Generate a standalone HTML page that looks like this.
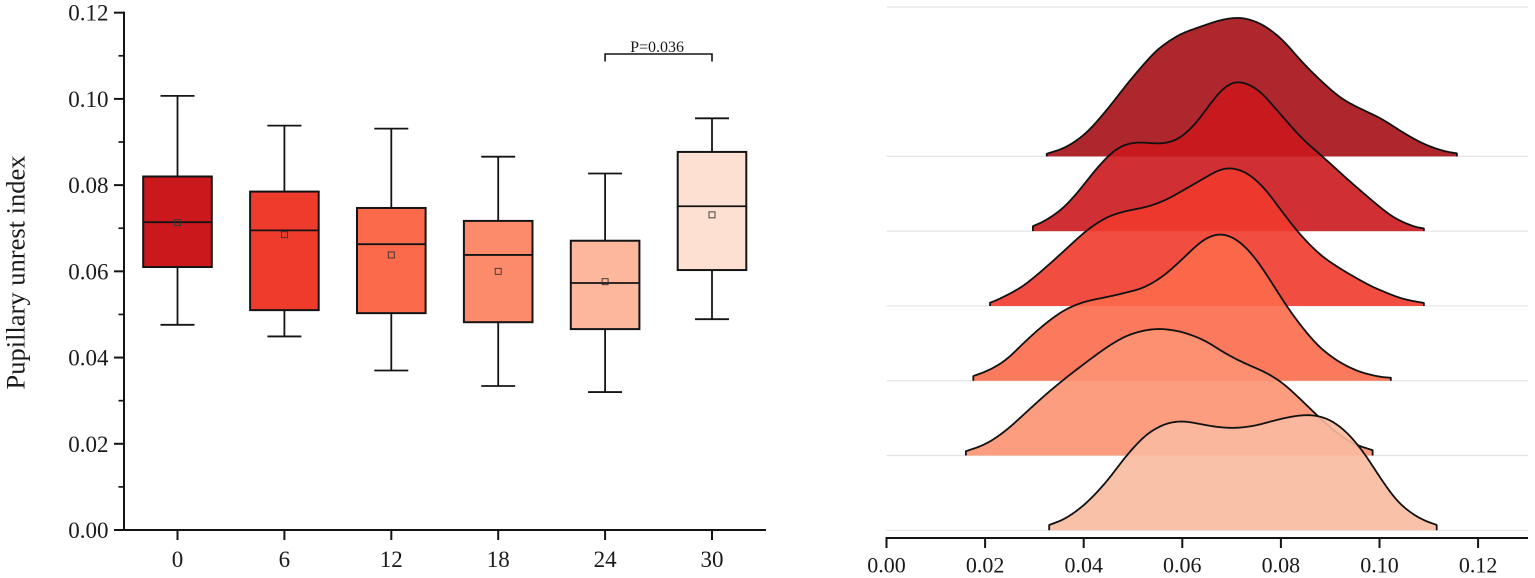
<!DOCTYPE html>
<html lang="en">
<head>
<meta charset="utf-8">
<title>Pupillary unrest index box and ridgeline plots</title>
<style>
html,body{margin:0;padding:0;background:#fff;width:1535px;height:578px;overflow:hidden}
svg{display:block}
text{font-family:"Liberation Serif",serif;fill:#1a1a1a}
</style>
</head>
<body>
<svg id="chart" xmlns="http://www.w3.org/2000/svg" width="1535" height="578" viewBox="0 0 1535 578"></svg>
<script>
// ---------- Box plot data ----------
const boxCategories = ['0', '6', '12', '18', '24', '30'];
const boxWhiskerHigh = [0.1007, 0.0938, 0.0931, 0.0866, 0.0827, 0.0955];
const boxQ3 = [0.0820, 0.0785, 0.0747, 0.0717, 0.0671, 0.0877];
const boxMedian = [0.0714, 0.0695, 0.0663, 0.0638, 0.0573, 0.0751];
const boxMean = [0.0713, 0.0685, 0.0638, 0.0600, 0.0576, 0.0731];
const boxQ1 = [0.0610, 0.0510, 0.0503, 0.0482, 0.0466, 0.0603];
const boxWhiskerLow = [0.0476, 0.0449, 0.0370, 0.0334, 0.0320, 0.0489];
const boxColors = ['#cb181d', '#ef3b2c', '#fb6a4a', '#fc8b6c', '#fcb79c', '#fee0d2'];
const boxYTicks = ['0.00', '0.02', '0.04', '0.06', '0.08', '0.10', '0.12'];
const boxYMinorTicks = [0.01, 0.03, 0.05, 0.07, 0.09, 0.11];

// ---------- Ridgeline data ----------
const ridgeXTicks = ['0.00', '0.02', '0.04', '0.06', '0.08', '0.10', '0.12'];
const ridgeColors = ['#a50f15', '#cb181d', '#ef3b2c', '#fb6a4a', '#fc9272', '#fabaa0'];
const ridge0X = [.0325,.0366,.0406,.0447,.0494,.0548,.0595,.0646,.0680,.0720,.0761,.0802,.0842,.0883,.0923,.0964,.1004,.1045,.1086,.1126,.1157];
const ridge0D = [.026,.09,.23,.463,.763,1.07,1.225,1.313,1.37,1.395,1.33,1.18,.946,.746,.573,.47,.38,.246,.13,.056,.03];
const ridge1X = [.0297,.0325,.0359,.0392,.0420,.0447,.0474,.0507,.0561,.0595,.0629,.0656,.0673,.0694,.0714,.0754,.0795,.0842,.0889,.0937,.0984,.1025,.1065,.1090];
const ridge1D = [.05,.11,.227,.41,.593,.743,.857,.893,.87,.92,1.08,1.27,1.385,1.48,1.51,1.427,1.193,.927,.727,.51,.31,.143,.05,.027];
const ridge2X = [.0210,.0230,.0277,.0325,.0366,.0406,.0447,.0487,.0528,.0568,.0609,.0656,.0673,.0700,.0734,.0768,.0802,.0842,.0883,.0930,.0984,.1045,.1090];
const ridge2D = [.033,.07,.193,.393,.577,.76,.893,.953,.987,1.06,1.177,1.31,1.365,1.39,1.33,1.177,.943,.693,.493,.343,.193,.07,.03];
const ridge3X = [.0176,.0210,.0244,.0277,.0318,.0359,.0399,.0460,.0521,.0561,.0602,.0636,.0656,.0680,.0714,.0747,.0774,.0812,.0842,.0876,.0916,.0957,.0997,.1023];
const ridge3D = [.047,.107,.207,.374,.557,.707,.79,.85,.924,1.04,1.224,1.39,1.45,1.48,1.41,1.24,1.04,.74,.54,.34,.19,.09,.04,.03];
const ridge4X = [.0161,.0203,.0244,.0284,.0325,.0366,.0406,.0447,.0487,.0528,.0561,.0602,.0646,.0687,.0727,.0768,.0802,.0835,.0873,.0910,.0944,.0986];
const ridge4D = [.043,.113,.253,.436,.62,.786,.936,1.086,1.203,1.26,1.27,1.236,1.153,1.02,.92,.836,.736,.586,.403,.236,.12,.053];
const ridge5X = [.0330,.0366,.0406,.0447,.0487,.0528,.0568,.0602,.0646,.0673,.0707,.0747,.0795,.0835,.0869,.0903,.0937,.0970,.1004,.1038,.1079,.1116];
const ridge5D = [.053,.12,.27,.486,.753,.97,1.076,1.096,1.053,1.03,1.02,1.043,1.11,1.15,1.156,1.103,.97,.77,.503,.27,.12,.053];
const ridgeXSeries = [ridge0X, ridge1X, ridge2X, ridge3X, ridge4X, ridge5X];
const ridgeDSeries = [ridge0D, ridge1D, ridge2D, ridge3D, ridge4D, ridge5D];

// ---------- Axis functions ----------
const boxY = v => 530 - v * 4311;
const boxX = i => 177.5 + i * 106.9;
const ridgeX = v => 886.5 + v * 4930;
const ridgeBase = i => 156.4 + i * 74.78;
const ridgeY = (i, d) => ridgeBase(i) - d * 100;

const svg = document.getElementById('chart');
const NS = 'http://www.w3.org/2000/svg';
const INK = '#141414';

function make(tag, attrs, parent) {
  const el = document.createElementNS(NS, tag);
  for (const k in attrs) el.setAttribute(k, attrs[k]);
  (parent || svg).appendChild(el);
  return el;
}
function seg(x1, y1, x2, y2, w, parent, color) {
  return make('line', {x1, y1, x2, y2, stroke: color || INK, 'stroke-width': w}, parent);
}
// Density curve: linear interpolation of the read values, then a kernel smooth
// like the one a KDE plot would show. End points stay fixed.
function smoothPath(px, py) {
  const x0 = px[0], xn = px[px.length - 1];
  const xs = [], ys = [];
  let j = 0;
  for (let x = x0; x < xn; x += 1) {
    while (j < px.length - 2 && x > px[j + 1]) j++;
    const t = (x - px[j]) / (px[j + 1] - px[j]);
    xs.push(x);
    ys.push(py[j] + t * (py[j + 1] - py[j]));
  }
  xs.push(xn);
  ys.push(py[py.length - 1]);
  const sigma = 7;
  let d = '';
  xs.forEach((x, i) => {
    const reach = Math.min(i, xs.length - 1 - i, 21);
    let sum = 0, wt = 0;
    for (let k = -reach; k <= reach; k++) {
      const w = Math.exp(-k * k / (2 * sigma * sigma));
      sum += w * ys[i + k];
      wt += w;
    }
    d += 'L' + x.toFixed(2) + ',' + (sum / wt).toFixed(2);
  });
  return d;
}

// ---------- Left: box plot ----------
const leftPanel = make('g', {});



const yTitle = make('text', {x: 0, y: 0, 'font-size': 26.5, 'text-anchor': 'middle', transform: 'translate(24.5,272.5) rotate(-90)'}, leftPanel);
yTitle.textContent = 'Pupillary unrest index';



const yAxisLine = seg(124, boxY(0.12) - 1, 124, boxY(0) + 1, 2, leftPanel);



const xAxisLine = seg(123, boxY(0), 766, boxY(0), 2, leftPanel);



boxYTicks.forEach(label => {
  const y = boxY(parseFloat(label));
  const tick = seg(114, y, 124, y, 2, leftPanel);
  
  
  const text = make('text', {x: 108.5, y: y + 8, 'font-size': 23, 'text-anchor': 'end'}, leftPanel);
  text.textContent = label;
  
  
});
boxYMinorTicks.forEach(v => {
  const tick = seg(118.5, boxY(v), 124, boxY(v), 1.7, leftPanel);
  
  
});

boxCategories.forEach((cat, i) => {
  const cx = boxX(i);
  const g = make('g', {}, leftPanel);
  
  

  const tick = seg(cx, boxY(0), cx, boxY(0) + 10, 2, g);
  
  

  const label = make('text', {x: cx, y: 567, 'font-size': 23, 'text-anchor': 'middle'}, g);
  label.textContent = cat;
  
  

  const whisker = seg(cx, boxY(boxWhiskerHigh[i]), cx, boxY(boxWhiskerLow[i]), 1.8, g);
  
  

  const capTop = seg(cx - 17, boxY(boxWhiskerHigh[i]), cx + 17, boxY(boxWhiskerHigh[i]), 1.8, g);
  
  

  const capLow = seg(cx - 17, boxY(boxWhiskerLow[i]), cx + 17, boxY(boxWhiskerLow[i]), 1.8, g);
  
  

  const box = make('rect', {x: cx - 34.3, y: boxY(boxQ3[i]), width: 68.6, height: boxY(boxQ1[i]) - boxY(boxQ3[i]), fill: boxColors[i], stroke: INK, 'stroke-width': 2}, g);
  
  

  const median = seg(cx - 34.3, boxY(boxMedian[i]), cx + 34.3, boxY(boxMedian[i]), 1.8, g);
  
  

  const mean = make('rect', {x: cx - 3, y: boxY(boxMean[i]) - 3, width: 6, height: 6, fill: 'none', stroke: '#333', 'stroke-width': 0.9}, g);
  
  
});

const bracket = make('path', {d: 'M' + boxX(4) + ',61.5V54H' + boxX(5) + 'V61.5', fill: 'none', stroke: INK, 'stroke-width': 1.6}, leftPanel);



const pText = make('text', {x: (boxX(4) + boxX(5)) / 2 - 1.5, y: 52, 'font-size': 16, 'text-anchor': 'middle'}, leftPanel);
pText.textContent = 'P=0.036';



// ---------- Right: ridgeline ----------
const rightPanel = make('g', {});



for (let i = -1; i < ridgeColors.length; i++) {
  const y = i === -1 ? 7 : ridgeBase(i);
  const gl = seg(886.5, y, 1528, y, 1.2, rightPanel, '#e4e4e4');
  
  
}

ridgeColors.forEach((color, i) => {
  const px = ridgeXSeries[i].map(ridgeX);
  const py = ridgeDSeries[i].map(d => ridgeY(i, d));
  const base = ridgeBase(i);
  const g = make('g', {}, rightPanel);
  
  

  const curve = 'M' + px[0].toFixed(2) + ',' + base.toFixed(2) + smoothPath(px, py) + 'L' + px[px.length - 1].toFixed(2) + ',' + base.toFixed(2);

  const area = make('path', {d: curve + 'Z', fill: color, 'fill-opacity': 0.9, stroke: 'none'}, g);
  
  

  const outline = make('path', {d: curve, fill: 'none', stroke: '#111', 'stroke-width': 1.8, 'stroke-linejoin': 'round'}, g);
  
  
});

const rAxis = seg(885.5, 538, 1528, 538, 2, rightPanel);



ridgeXTicks.forEach(label => {
  const x = ridgeX(parseFloat(label));
  const tick = seg(x, 537, x, 548, 2, rightPanel);
  
  
  const text = make('text', {x: x, y: 572.5, 'font-size': 22, 'text-anchor': 'middle'}, rightPanel);
  text.textContent = label;
  
  
});
</script>
</body>
</html>
